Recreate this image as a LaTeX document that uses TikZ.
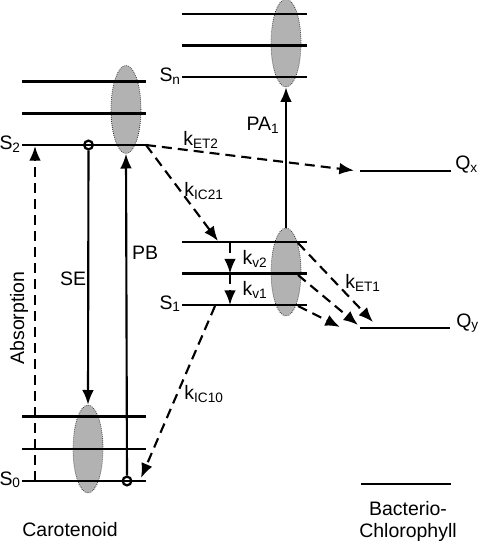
\documentclass[tikz,border=0pt]{standalone}
\usepackage{fontspec}
\setmainfont{Liberation Sans}
\usetikzlibrary{arrows.meta,shapes.geometric}
\begin{document}
\begin{tikzpicture}[x=0.75pt,y=-0.75pt,
  every node/.style={font=\fontsize{14.6}{17}\selectfont, inner sep=0pt},
  level/.style={line width=2.1pt},
  blob/.style={ellipse, draw, densely dotted, line width=0.5pt, fill=gray!60, minimum width=22.5pt, minimum height=66pt, inner sep=0pt},
  ring/.style={circle, draw, line width=1.7pt, minimum size=6.5pt, inner sep=0pt},
  tip/.style={-{Latex[length=11pt,width=8.8pt]}},
  solidarrow/.style={tip, line width=1.6pt},
  dasharrow/.style={tip, line width=1.6pt, dash pattern=on 7.5pt off 4.5pt}]
\useasboundingbox (0,0) rectangle (478,541);

% ellipses
\node[blob] (e2) at (126,109.5) {};
\node[blob] (e0) at (88,449) {};
\node[blob] (en) at (286,43) {};
\node[blob] (e1) at (286,272) {};

% carotenoid upper levels
\coordinate (a1) at (22,81.7);  \coordinate (a1r) at (146,81.7);
\coordinate (a2) at (22,113.3); \coordinate (a2r) at (146,113.3);
\coordinate (s2l) at (22,145);  \coordinate (s2r) at (146,145);
\draw[level] (a1) -- (a1r);
\draw[level] (a2) -- (a2r);
\draw[level] (s2l) -- (s2r);
% carotenoid ground levels
\coordinate (g1) at (22,416.7); \coordinate (g1r) at (146,416.7);
\coordinate (g2) at (22,449);   \coordinate (g2r) at (146,449);
\coordinate (s0l) at (22,481);  \coordinate (s0r) at (146,481);
\draw[level] (g1) -- (g1r);
\draw[level] (g2) -- (g2r);
\draw[level] (s0l) -- (s0r);
% Sn levels
\coordinate (n1) at (182,14);   \coordinate (n1r) at (307,14);
\coordinate (n2) at (182,45.5); \coordinate (n2r) at (307,45.5);
\coordinate (snl) at (182,77);  \coordinate (snr) at (307,77);
\draw[level] (n1) -- (n1r);
\draw[level] (n2) -- (n2r);
\draw[level] (snl) -- (snr);
% S1 levels
\coordinate (v2l) at (182,242);   \coordinate (v2r) at (307,242);
\coordinate (v1l) at (182,273.5); \coordinate (v1r) at (307,273.5);
\coordinate (s1l) at (182,305);   \coordinate (s1r) at (307,305);
\draw[level] (v2l) -- (v2r);
\draw[level] (v1l) -- (v1r);
\draw[level] (s1l) -- (s1r);
% BChl levels
\coordinate (qxl) at (360,171); \coordinate (qxr) at (451,171);
\coordinate (qyl) at (360,328); \coordinate (qyr) at (450,328);
\coordinate (bl) at (361,484);  \coordinate (br) at (451,484);
\draw[level] (qxl) -- (qxr);
\draw[level] (qyl) -- (qyr);
\draw[level] (bl) -- (br);

% rings
\node[ring] (r2) at (88.5,145) {};
\node[ring] (r0) at (127,481) {};

% level labels
\node[anchor=base east] (S2) at (21,150) {S\textsubscript{2}};
\node[anchor=base east] (S0) at (21,485) {S\textsubscript{0}};
\node[anchor=base east] (Sn) at (181,82) {S\textsubscript{n}};
\node[anchor=base east] (S1) at (181,309) {S\textsubscript{1}};
\node[anchor=base west] (Qx) at (455,170) {Q\textsubscript{x}};
\node[anchor=base west] (Qy) at (456,327) {Q\textsubscript{y}};
\node[anchor=base] (car) at (70,536.5) {Carotenoid};
\node[anchor=base] (bact) at (408,515.5) {Bacterio-};
\node[anchor=base] (chl) at (408,537) {Chlorophyll};

% arrows
\coordinate (abs0) at (35,481);
\coordinate (abs2) at (35,146);
\draw[dasharrow] (abs0) -- (abs2);
\node[rotate=90] (absl) at (19,318) {Absorption};

\draw[solidarrow] (r2) -- (e0.north);
\node (SE) at (73,279) {SE};
\draw[solidarrow] (r0) -- (e2.south);
\node (PB) at (145,253) {PB};

\coordinate (et2e) at (354,170.5);
\draw[dasharrow] (s2r) -- (et2e);
\node (kET2) at (201,140) {k\textsubscript{ET2}};

\coordinate (ic21e) at (218,241);
\draw[dasharrow] (s2r) -- (ic21e);
\node (kIC21) at (204,191) {k\textsubscript{IC21}};

\draw[solidarrow] (e1.north) -- (en.south);
\node (PA) at (263,125) {PA\textsubscript{1}};

\coordinate (kv2a) at (230,243);
\coordinate (kv2b) at (230,273.5);
\coordinate (kv1b) at (230,305);
\draw[dasharrow] (kv2a) -- (kv2b);
\draw[dasharrow] (kv2b) -- (kv1b);
\node (kv2) at (255,259) {k\textsubscript{v2}};
\node (kv1) at (255,290) {k\textsubscript{v1}};

\coordinate (ic10s) at (215,306);
\coordinate (ic10e) at (141,478);
\draw[dasharrow] (ic10s) -- (ic10e);
\node (kIC10) at (204,394) {k\textsubscript{IC10}};

\coordinate (et1a) at (298,243);
\coordinate (et1b) at (298,275);
\coordinate (et1c) at (298,306);
\coordinate (et1ae) at (373,322);
\coordinate (et1be) at (358,325);
\coordinate (et1ce) at (340,327);
\draw[dasharrow] (et1a) -- (et1ae);
\draw[dasharrow] (et1b) -- (et1be);
\draw[dasharrow] (et1c) -- (et1ce);
\node (kET1) at (363,283) {k\textsubscript{ET1}};
\end{tikzpicture}
\end{document}
